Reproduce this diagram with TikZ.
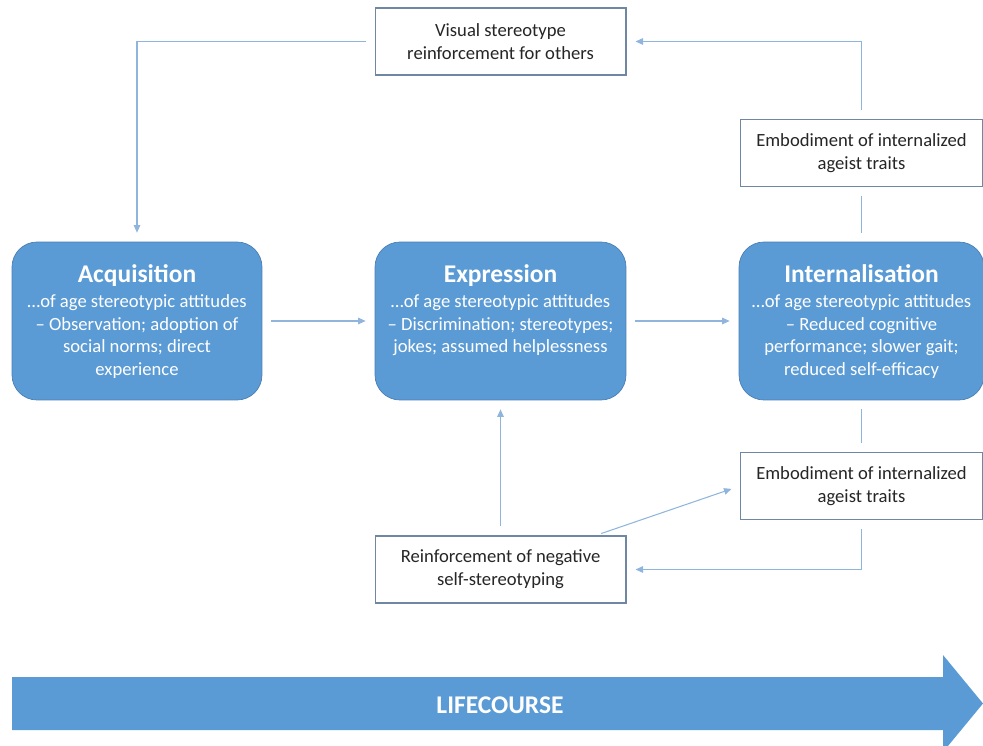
\documentclass[tikz,border=0pt]{standalone}
\usepackage{fontspec}
\setmainfont{Carlito}
\usepackage{xcolor}
\usepackage{tikz}
\usetikzlibrary{positioning,calc,arrows.meta}

\definecolor{stageblue}{HTML}{5B9BD5}
\definecolor{stageedge}{HTML}{4A7EB5}
\definecolor{linkblue}{HTML}{8FB5DE}
\definecolor{noteedge}{HTML}{6F87A3}
\definecolor{notetext}{HTML}{262626}

\newcommand{\stagetext}[2]{\parbox[c][2.25cm][t]{4.9cm}{\centering{\fontsize{14.5}{17}\selectfont\bfseries #1}\\[1pt]#2}}

\tikzset{
    stagebox/.style={draw=stageedge, fill=stageblue, rounded corners=0.5cm, text=white,
        minimum width=5cm, minimum height=3.16cm, inner sep=0pt,
        font=\fontsize{10.6}{13}\selectfont},
    notebox/.style={draw=noteedge, line width=0.6pt, fill=white, align=center, text=notetext,
        minimum width=5.02cm, minimum height=1.34cm, font=\fontsize{10.6}{13}\selectfont},
    link/.style={draw=linkblue, line width=0.6pt, -{Triangle[length=1.5mm,width=1.3mm]},
        shorten >=0.18cm, shorten <=0.18cm},
    plainlink/.style={link, -}
}

\begin{document}
\begin{tikzpicture}[x=0.02cm, y=-0.02cm]
    \useasboundingbox (0,0) rectangle (983,746);

    % Stages
    \node [stagebox] (acq) at (137,321)
        {\stagetext{Acquisition}{…of age stereotypic attitudes\\ – Observation; adoption of\\ social norms; direct\\ experience}};
    \node [stagebox, minimum width=5.02cm] (expr) at (500.5,321)
        {\stagetext{Expression}{…of age stereotypic attitudes\\ – Discrimination; stereotypes;\\ jokes; assumed helplessness}};
    \node [stagebox, minimum width=4.86cm] (intl) at (861.5,321)
        {\stagetext{Internalisation}{…of age stereotypic attitudes\\ – Reduced cognitive\\ performance; slower gait;\\ reduced self-efficacy}};

    % Side notes
    \node [notebox] (vis) at (500.5,41.5) {Visual stereotype\\ reinforcement for others};
    \node [notebox, minimum width=4.84cm] (embtop) at (861.5,153) {Embodiment of internalized\\ ageist traits};
    \node [notebox, minimum width=4.84cm] (embbot) at (861.5,486) {Embodiment of internalized\\ ageist traits};
    \node [notebox] (reinf) at (500.5,569.5) {Reinforcement of negative\\ self-stereotyping};

    % Links
    \draw [link] (vis.west) -| (acq.north);
    \draw [link] (acq) -- (expr);
    \draw [link] (expr) -- (intl);
    \draw [plainlink] (intl.north) -- (embtop.south);
    \draw [link] (embtop.north) |- (vis.east);
    \draw [plainlink] (intl.south) -- (embbot.north);
    \draw [link] (embbot.south) |- (reinf.east);
    \draw [link] (reinf.north) -- (expr.south);
    \draw [link, shorten <=0.12cm] ([xshift=-0.62cm]reinf.north east) -- (embbot.west);

    % Lifecourse arrow
    \fill [stageblue] (12,677) -- (943,677) -- (943,655) -- (983,703.5) -- (943,752)
        -- (943,730) -- (12,730) -- cycle;
    \node [text=white, font=\fontsize{14.5}{16}\selectfont\bfseries] (life) at (500,705) {LIFECOURSE};
\end{tikzpicture}
\end{document}
